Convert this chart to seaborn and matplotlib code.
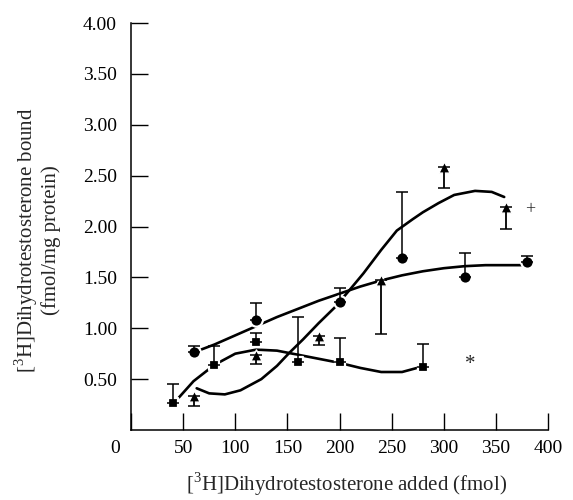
import matplotlib
matplotlib.use("Agg")
import matplotlib.pyplot as plt
import matplotlib.transforms as mtransforms
import seaborn as sns
import pandas as pd

# measured points (fmol added -> fmol/mg protein bound)
circle_x = [60, 120, 200, 260, 320, 380]
circle_y = [0.77, 1.08, 1.26, 1.69, 1.50, 1.65]
circle_err_up = [0.06, 0.17, 0.14, 0.65, 0.24, 0.06]

square_x = [40, 80, 120, 160, 200, 280]
square_y = [0.27, 0.64, 0.86, 0.67, 0.67, 0.62]
square_err_up = [0.18, 0.19, 0.09, 0.44, 0.23, 0.23]

triangle_x = [60, 120, 180, 240, 300, 360]
triangle_y = [0.33, 0.74, 0.92, 1.47, 2.58, 2.19]
triangle_err_down = [0.09, 0.09, 0.08, 0.53, 0.20, 0.21]

# fitted curves
circle_fit_x = [62, 80, 100, 120, 140, 160, 180, 200, 220, 240, 260, 280, 300, 320, 340, 360, 376]
circle_fit_y = [0.77, 0.84, 0.93, 1.02, 1.11, 1.19, 1.27, 1.34, 1.41, 1.47, 1.52, 1.56, 1.59, 1.61, 1.62, 1.62, 1.62]

square_fit_x = [46, 60, 80, 100, 120, 140, 160, 180, 200, 220, 240, 260, 278]
square_fit_y = [0.32, 0.48, 0.64, 0.75, 0.79, 0.78, 0.74, 0.70, 0.66, 0.61, 0.57, 0.57, 0.62]

triangle_fit_x = [63, 75, 90, 105, 125, 140, 152, 165, 180, 196, 210, 223, 240, 255, 270, 280,
                  295, 310, 330, 346, 358]
triangle_fit_y = [0.41, 0.36, 0.35, 0.39, 0.50, 0.63, 0.76, 0.89, 1.05, 1.21, 1.38, 1.54, 1.77,
                  1.96, 2.07, 2.14, 2.23, 2.31, 2.35, 2.34, 2.29]

x_ticks = [0, 50, 100, 150, 200, 250, 300, 350, 400]
y_ticks = [0.5, 1.0, 1.5, 2.0, 2.5, 3.0, 3.5, 4.0]

sns.set_style("ticks")
plt.rcParams["font.family"] = ["Liberation Serif", "DejaVu Serif"]
plt.rcParams["mathtext.fontset"] = "custom"
plt.rcParams["mathtext.rm"] = "Liberation Serif"

fig = plt.figure(figsize=(5.73, 5.0), dpi=100)
ax = fig.add_axes([131 / 573, 0.14, 417 / 573, 0.814])

# fit curves
for fx, fy in [(circle_fit_x, circle_fit_y), (square_fit_x, square_fit_y),
               (triangle_fit_x, triangle_fit_y)]:
    sns.lineplot(x=fx, y=fy, color="black", lw=1.9, sort=False, ax=ax, zorder=2)

# markers with a white halo so the curves break around them
series = [
    (circle_x, circle_y, "o", 80, 1.6),
    (square_x, square_y, "s", 50, 1.6),
    (triangle_x, triangle_y, "^", 65, 1.0),
]
for sx, sy, m, s, lw in series:
    df = pd.DataFrame({"x": sx, "y": sy})
    sns.scatterplot(data=df, x="x", y="y", marker=m, s=s, color="black",
                    edgecolor="white", linewidth=lw, ax=ax, zorder=3)

# one-sided error bars
zeros = [0] * 6
ax.errorbar(circle_x, circle_y, yerr=[zeros, circle_err_up], fmt="none",
            ecolor="black", elinewidth=1.1, capsize=4.5, capthick=1.1, zorder=4)
ax.errorbar(square_x, square_y, yerr=[zeros, square_err_up], fmt="none",
            ecolor="black", elinewidth=1.1, capsize=4.5, capthick=1.1, zorder=4)
ax.errorbar(triangle_x, triangle_y, yerr=[triangle_err_down, zeros], fmt="none",
            ecolor="black", elinewidth=1.3, capsize=4.5, capthick=1.1, zorder=4)

ax.text(325, 0.64, "*", fontsize=15, ha="center", va="center")
ax.text(383, 2.17, "+", fontsize=13, ha="center", va="center")

ax.set_xlim(0, 400)
ax.set_ylim(0, 4)
sns.despine(ax=ax)
for sp in ["left", "bottom"]:
    ax.spines[sp].set_linewidth(1.1)
    ax.spines[sp].set_color("black")

ax.set_xticks(x_ticks)
ax.set_xticklabels([str(v) for v in x_ticks])
ax.set_yticks(y_ticks)
ax.set_yticklabels([f"{v:.2f}" for v in y_ticks])
ax.tick_params(axis="both", direction="in", length=12, width=1.0, labelsize=14,
               colors="black")
ax.tick_params(axis="x", pad=7)
ax.tick_params(axis="y", pad=10)

# the "0" sits left of the origin
offset = mtransforms.ScaledTranslation(-16 / 100, 0, fig.dpi_scale_trans)
lbl0 = ax.get_xticklabels()[0]
lbl0.set_transform(lbl0.get_transform() + offset)

ax.set_ylabel("[$^3$H]Dihydrotestosterone bound\n(fmol/mg protein)", fontsize=15,
              linespacing=1.1)
ax.yaxis.set_label_coords(-0.168, 0.467)
ax.set_xlabel("[$^3$H]Dihydrotestosterone added (fmol)", fontsize=15)
ax.xaxis.label.set_va("center")
ax.xaxis.set_label_coords(0.518, -0.133)

fig.savefig("out.png", dpi=100, facecolor="white")
